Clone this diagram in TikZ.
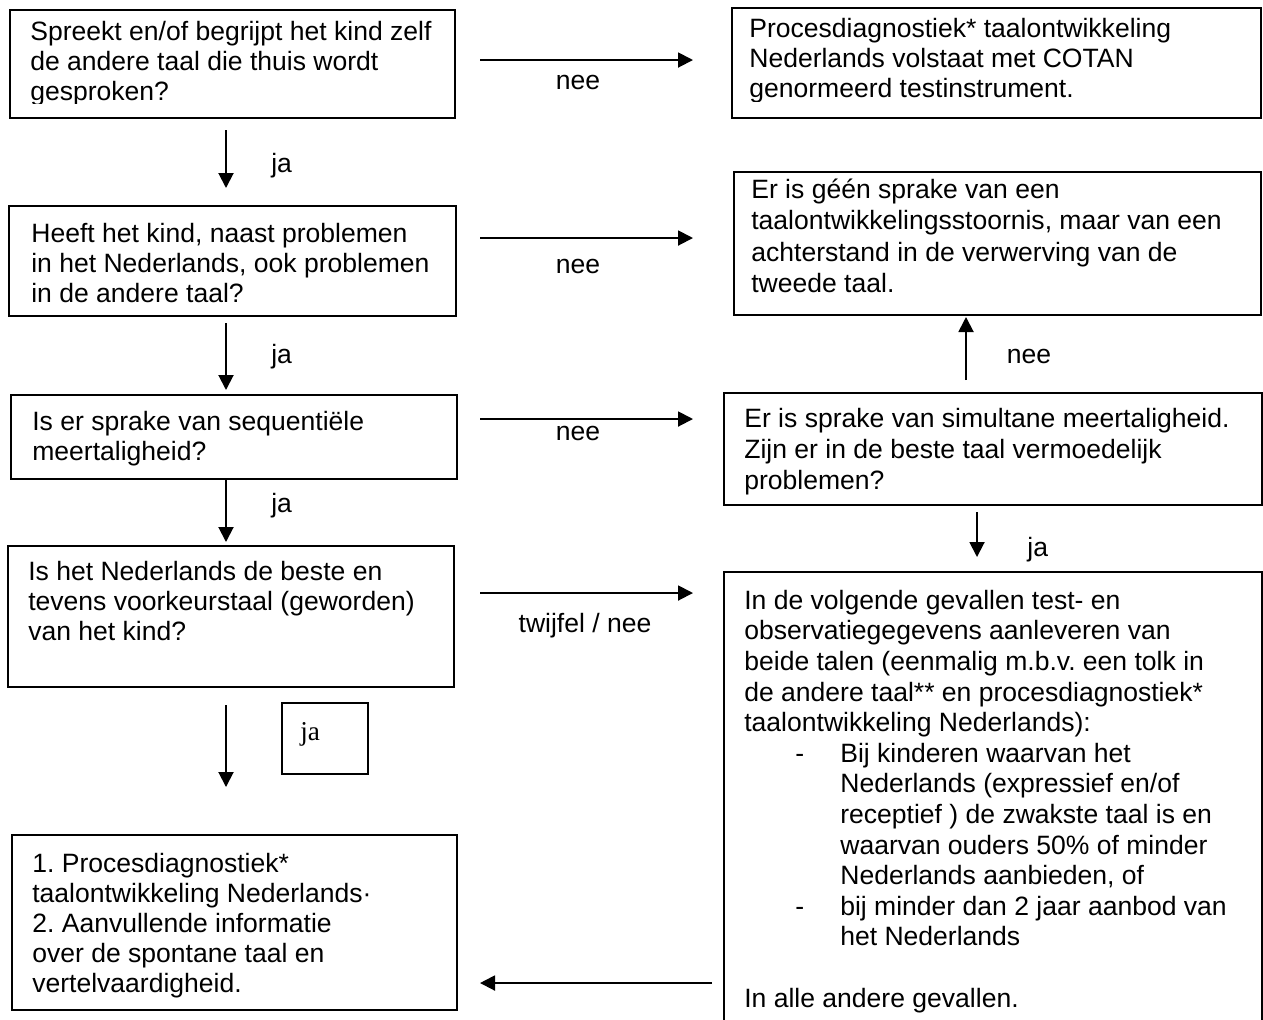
\documentclass[tikz,border=0pt]{standalone}
\usepackage{fontspec}
\setmainfont{Liberation Sans}
\newfontfamily\timesfont{Liberation Serif}
\usetikzlibrary{arrows.meta,fit}
\frenchspacing
\begin{document}
\begin{tikzpicture}[x=0.02cm,y=-0.02cm,
  box/.style={draw, line width=1.1pt, inner sep=0pt},
  txt/.style={anchor=base west, inner sep=0pt, align=left, font=\fontsize{15.1}{17.07}\selectfont\frenchspacing},
  txtw/.style={txt, font=\fontsize{15.1}{17.93}\selectfont\frenchspacing},
  txtm/.style={txt, font=\fontsize{15.1}{17.64}\selectfont\frenchspacing},
  txtl/.style={txt, font=\fontsize{15.1}{17.41}\selectfont\frenchspacing},
  lbl/.style={anchor=base, inner sep=0pt, font=\fontsize{15.1}{17.07}\selectfont},
  lblw/.style={anchor=base west, inner sep=0pt, font=\fontsize{15.1}{17.07}\selectfont},
  arr/.style={line width=1.1pt, -{Triangle[length=0.3cm,width=0.3cm]}}]
\useasboundingbox (0,0) rectangle (1263,1019);
\clip (0,0) rectangle (1263,1019);
\fill[white] (0,0) rectangle (1263,1019);

% boxes
\node[box, fit={(10,10) (455,118)}] (b1) {};
\node[box, fit={(732,8) (1261,118)}] (b2) {};
\node[box, fit={(9,206) (456,316)}] (b3) {};
\node[box, fit={(734,172) (1261,315)}] (b4) {};
\node[box, fit={(11,395) (457,479)}] (b5) {};
\node[box, fit={(724,393) (1262,505)}] (b6) {};
\node[box, fit={(8,546) (454,687)}] (b7) {};
\node[box, fit={(724,572) (1262,1040)}] (b8) {};
\node[box, fit={(12,835) (457,1010)}] (b9) {};
\node[box, line width=0.8pt, fit={(282,703) (368,774)}] (bj) {};

% texts (anchor = baseline of the last line)
\begin{scope}
\clip (10,10) rectangle (455,103);
\node[txt] (t1) at (30,100) {Spreekt en/of begrijpt het kind zelf\\de andere taal die thuis wordt\\gesproken?};
\end{scope}
\begin{scope}
\clip (732,8) rectangle (1261,101);
\node[txt] (t2) at (749,97) {Procesdiagnostiek* taalontwikkeling\\Nederlands volstaat met COTAN\\genormeerd testinstrument.};
\end{scope}
\node[txt] (t3) at (31,302) {Heeft het kind, naast problemen\\in het Nederlands, ook problemen\\in de andere taal?};
\node[txtw] (t4) at (751,292.5) {Er is géén sprake van een\\taalontwikkelingsstoornis, maar van een\\achterstand in de verwerving van de\\tweede taal.};
\node[txt] (t5) at (32,460) {Is er sprake van sequentiële\\meertaligheid?};
\node[txtm] (t6) at (744,489) {Er is sprake van simultane meertaligheid.\\Zijn er in de beste taal vermoedelijk\\problemen?};
\node[txt] (t7) at (28,640) {Is het Nederlands de beste en\\tevens voorkeurstaal (geworden)\\van het kind?};
\node[txtl] (t8) at (744,1007) {In de volgende gevallen test- en\\observatiegegevens aanleveren van\\beide talen (eenmalig m.b.v. een tolk in\\de andere taal** en procesdiagnostiek*\\taalontwikkeling Nederlands):\\
\hspace*{1.02cm}\makebox[0.9cm][l]{-}Bij kinderen waarvan het\\
\hspace*{1.92cm}Nederlands (expressief en/of\\
\hspace*{1.92cm}receptief ) de zwakste taal is en\\
\hspace*{1.92cm}waarvan ouders 50\% of minder\\
\hspace*{1.92cm}Nederlands aanbieden, of\\
\hspace*{1.02cm}\makebox[0.9cm][l]{-}bij minder dan 2 jaar aanbod van\\
\hspace*{1.92cm}het Nederlands\\
\mbox{}\\
In alle andere gevallen.};
\node[txt] (t9) at (32,992) {1. Procesdiagnostiek*\\taalontwikkeling Nederlands·\\2. Aanvullende informatie\\over de spontane taal en\\vertelvaardigheid.};
\node[anchor=base west, inner sep=0pt, font=\timesfont\fontsize{15.5}{18}\selectfont] (tj) at (300,740) {ja};

% connector end points
\coordinate (a1s) at (226,130); \coordinate (a1e) at (226,188);
\coordinate (a2s) at (226,323); \coordinate (a2e) at (226,390);
\coordinate (a3s) at (226,479); \coordinate (a3e) at (226,542);
\coordinate (a4s) at (226,705); \coordinate (a4e) at (226,787);
\coordinate (h1s) at (480,60);  \coordinate (h1e) at (693,60);
\coordinate (h2s) at (480,238); \coordinate (h2e) at (693,238);
\coordinate (h3s) at (480,419); \coordinate (h3e) at (693,419);
\coordinate (h4s) at (480,593); \coordinate (h4e) at (693,593);
\coordinate (hls) at (712,983); \coordinate (hle) at (480,983);
\coordinate (ups) at (966,380); \coordinate (upe) at (966,317);
\coordinate (drs) at (977,512); \coordinate (dre) at (977,557);

\draw[arr] (a1s) -- (a1e);
\draw[arr] (a2s) -- (a2e);
\draw[arr] (a3s) -- (a3e);
\draw[arr] (a4s) -- (a4e);
\draw[arr] (h1s) -- (h1e);
\draw[arr] (h2s) -- (h2e);
\draw[arr] (h3s) -- (h3e);
\draw[arr] (h4s) -- (h4e);
\draw[arr] (hls) -- (hle);
\draw[arr] (ups) -- (upe);
\draw[arr] (drs) -- (dre);

% labels
\node[lbl] (l1) at (578,89) {nee};
\node[lbl] (l2) at (578,273) {nee};
\node[lbl] (l3) at (578,440) {nee};
\node[lbl] (l4) at (585,632) {twijfel / nee};
\node[lblw] (j1) at (271,172) {ja};
\node[lblw] (j2) at (271,363) {ja};
\node[lblw] (j3) at (271,512) {ja};
\node[lbl] (l5) at (1029,363) {nee};
\node[lblw] (j4) at (1027,556) {ja};
\end{tikzpicture}
\end{document}
